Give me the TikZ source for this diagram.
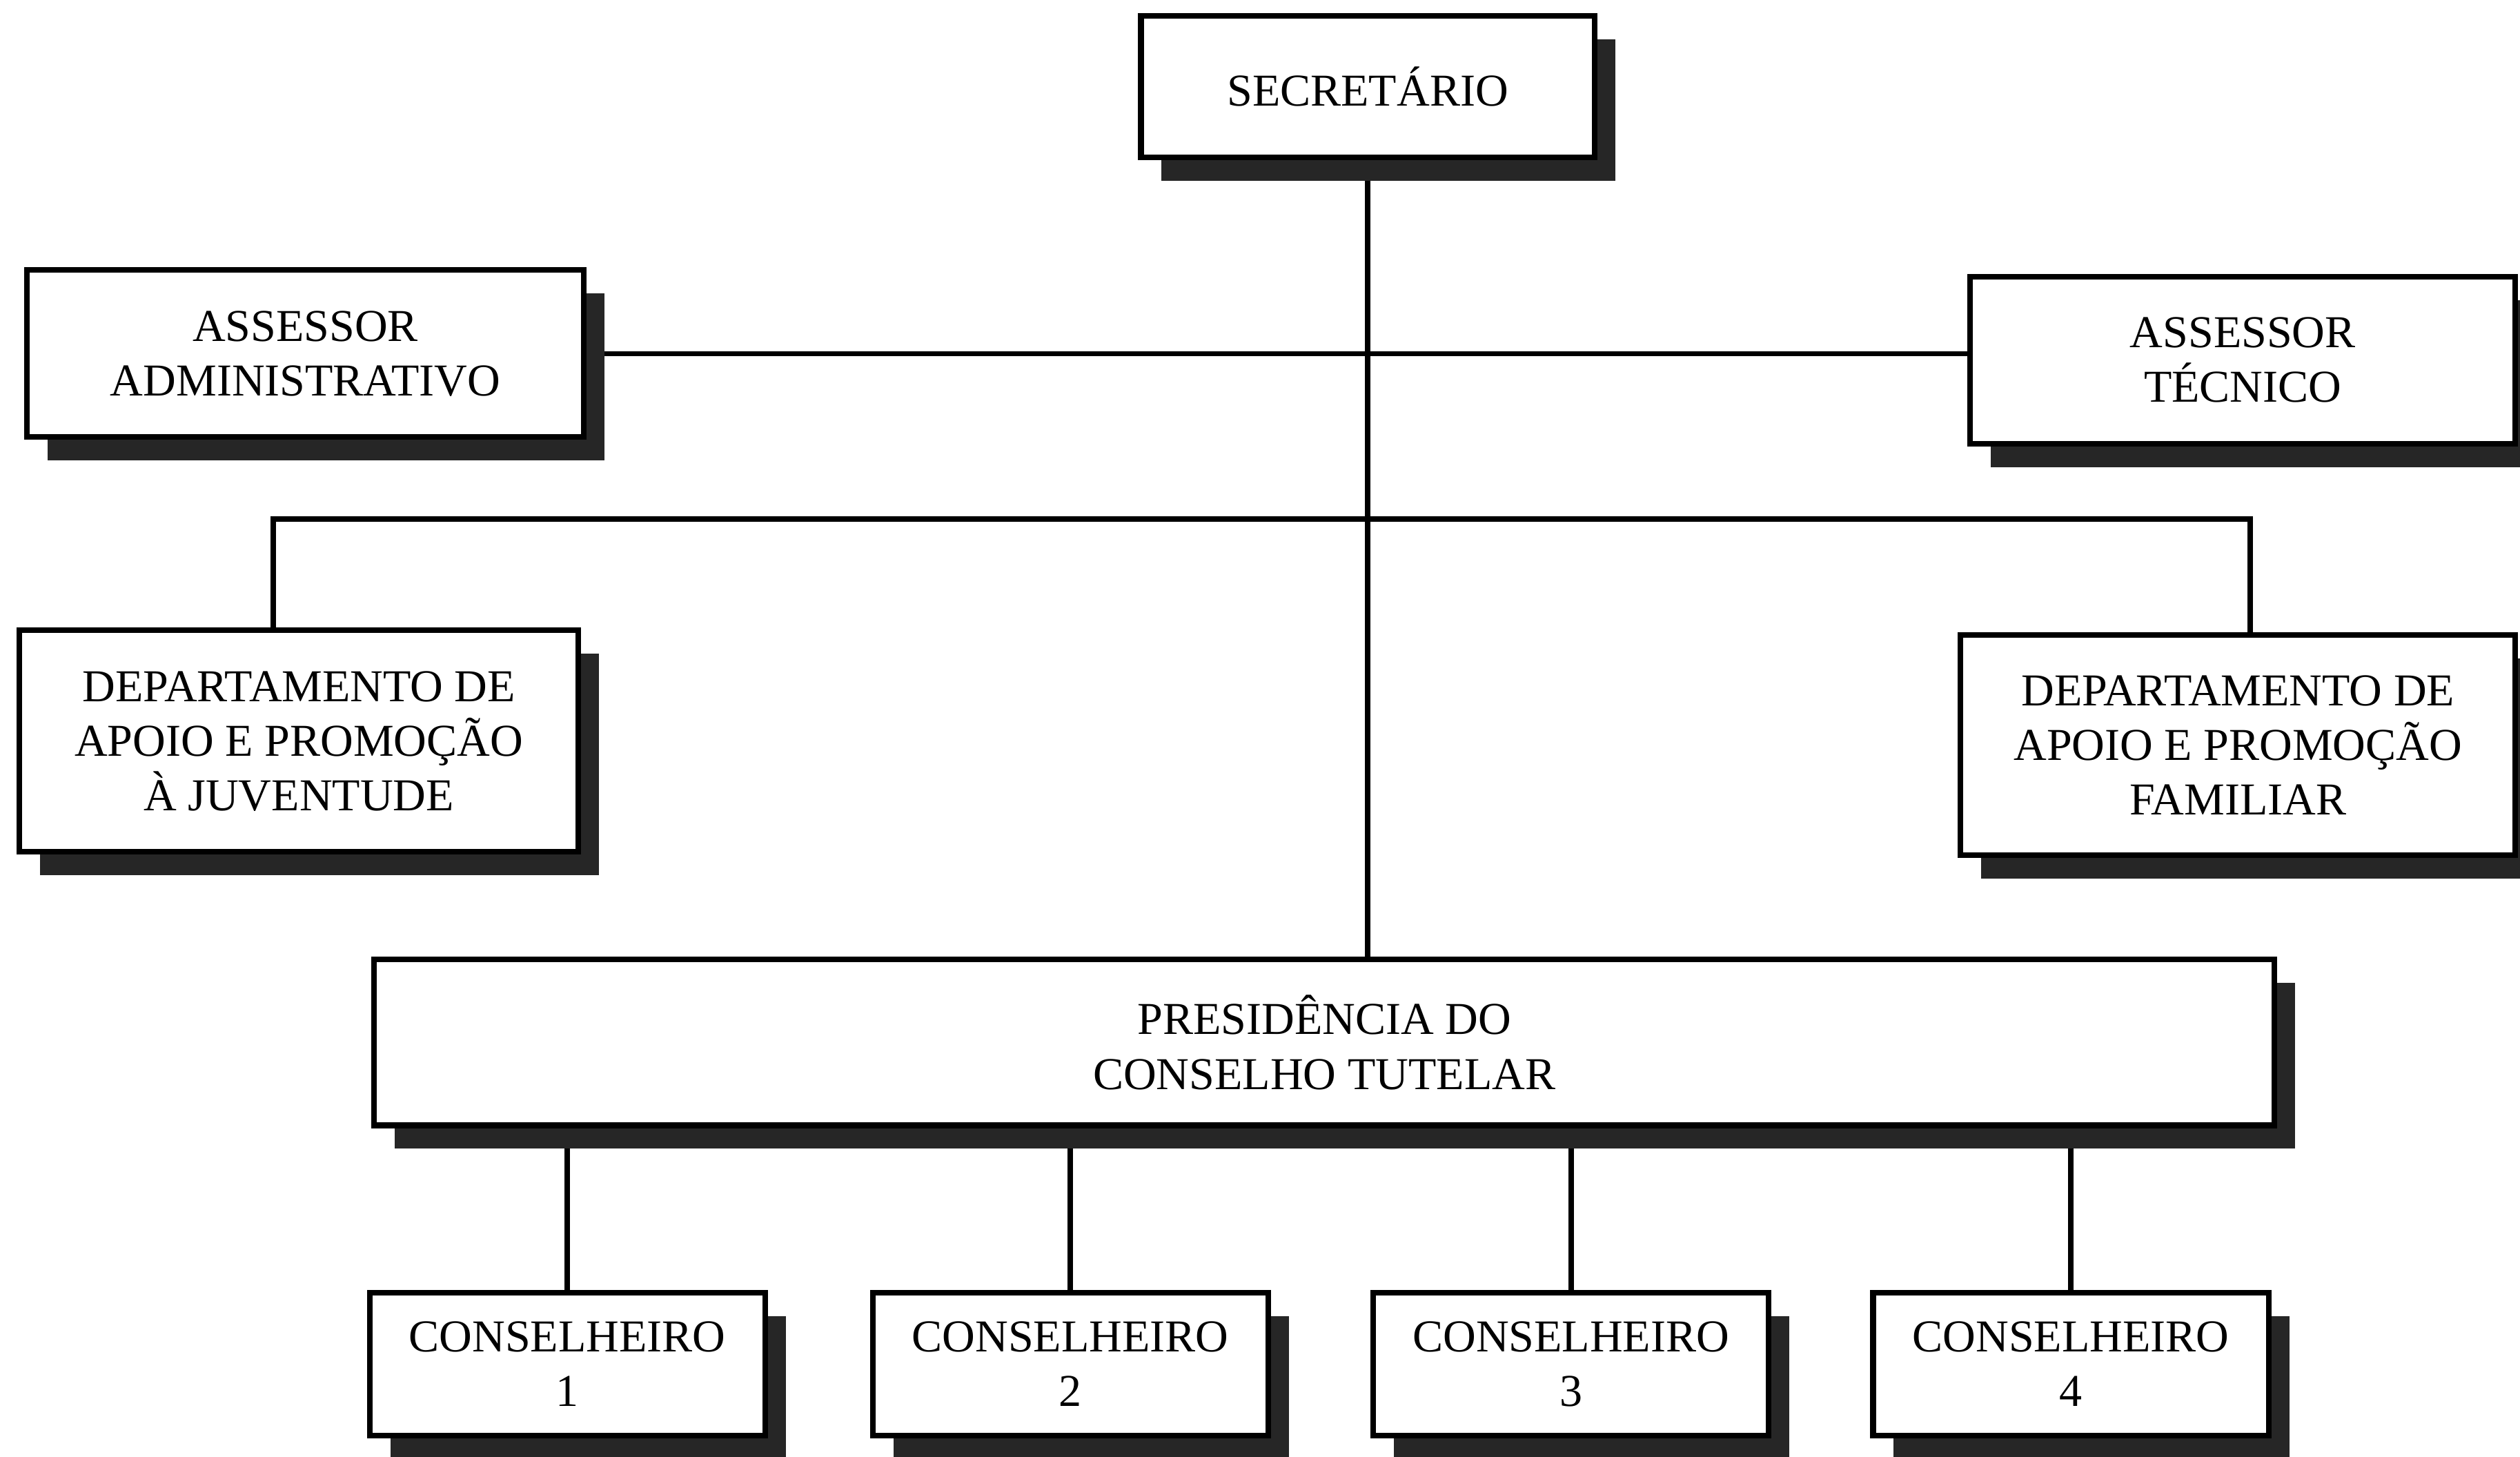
\documentclass[tikz,border=0pt]{standalone}
\usepackage{fontspec}
\setmainfont{Liberation Serif}
\usetikzlibrary{shadows,backgrounds}
\begin{document}
\begin{tikzpicture}[x=0.02329cm, y=-0.02329cm,
  orgbox/.style={draw, line width=2.3pt, fill=white, align=center, inner sep=0pt,
    font=\fontsize{18.8}{22.5}\selectfont,
    drop shadow={shadow xshift=0.3cm, shadow yshift=-0.34cm, fill=black!85, opacity=1}},
  link/.style={line width=2.2pt}]
\useasboundingbox (0,0) rectangle (1568,906);
% drawing nodes
\node[orgbox, minimum width=6.57cm, minimum height=2.05cm] (secretario) at (851,54) {SECRETÁRIO};
\node[orgbox, minimum width=8.06cm, minimum height=2.42cm] (assadm) at (190,220) {ASSESSOR\\ADMINISTRATIVO};
\node[orgbox, minimum width=7.90cm, minimum height=2.42cm] (asstec) at (1395.5,224) {ASSESSOR\\TÉCNICO};
\node[orgbox, minimum width=8.10cm, minimum height=3.21cm] (depjuv) at (186,461) {DEPARTAMENTO DE\\APOIO E PROMOÇÃO\\À JUVENTUDE};
\node[orgbox, minimum width=8.04cm, minimum height=3.19cm] (depfam) at (1392.5,463.5) {DEPARTAMENTO DE\\APOIO E PROMOÇÃO\\FAMILIAR};
\node[orgbox, minimum width=27.53cm, minimum height=2.40cm] (presid) at (824,648.5) {PRESIDÊNCIA DO\\CONSELHO TUTELAR};
\foreach \n/\cx in {1/353, 2/666, 3/977.5, 4/1288.5}{
  \node[orgbox, minimum width=5.73cm, minimum height=2.07cm] (cons\n) at (\cx,848.5) {CONSELHEIRO\\\n};
}
% drawing edges
\begin{scope}[on background layer]
  \coordinate (bl) at (170,323);
  \coordinate (br) at (1400,323);
  \draw[link] (secretario.south) -- (secretario.south |- presid.north);
  \draw[link] (assadm.east) -- (assadm.east -| asstec.west);
  \draw[link] (depjuv.north -| bl) -- (bl) -- (br) -- (br |- depfam.north);
  \foreach \n in {1,...,4}{
    \draw[link] (cons\n.north) -- (cons\n.north |- presid.south);
  }
\end{scope}
\end{tikzpicture}
\end{document}
